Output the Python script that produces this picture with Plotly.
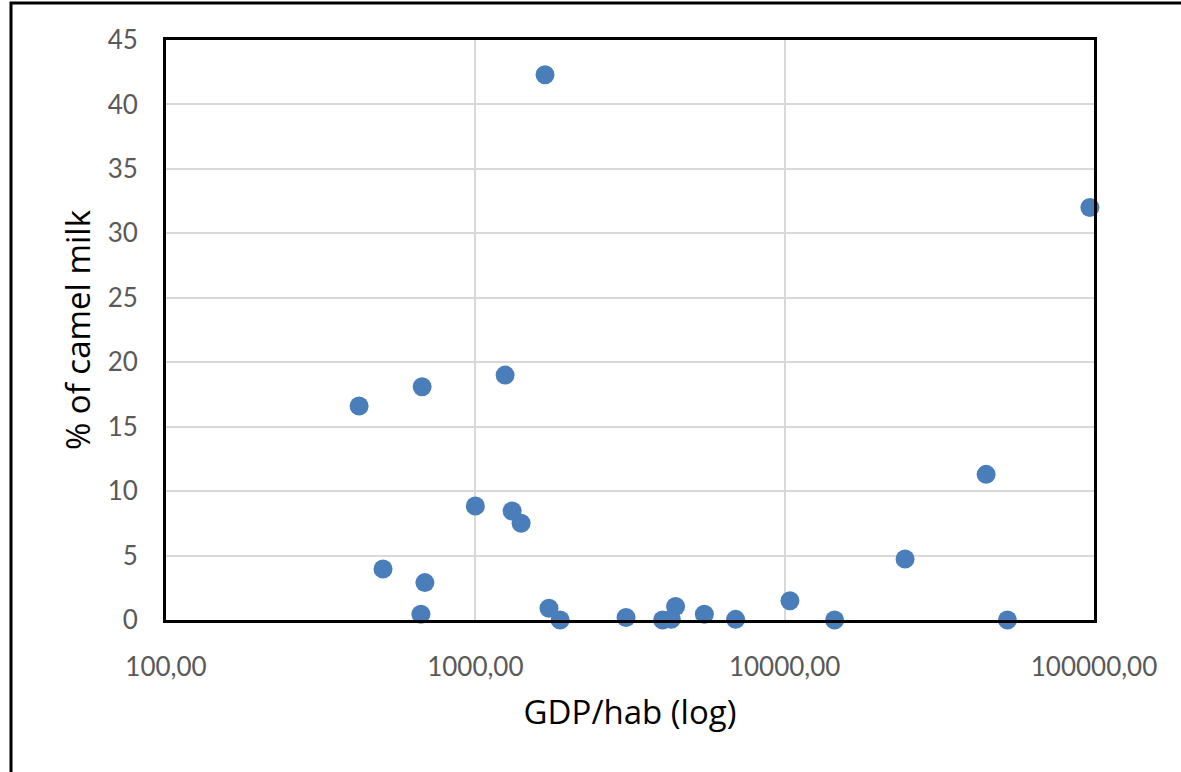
import plotly.graph_objects as go

gdp_per_hab = [1680, 97000, 1248, 673, 421, 44800, 1000, 1315, 1406, 24500,
               503, 687, 10400, 1730, 4440, 667, 5500, 3070, 1880, 4030,
               4300, 6940, 14500, 52500]
camel_milk_pct = [42.3, 32.0, 19.0, 18.1, 16.6, 11.3, 8.84, 8.46, 7.5, 4.73,
                  3.96, 2.9, 1.5, 0.91, 1.05, 0.45, 0.45, 0.2, 0.0, 0.0,
                  0.05, 0.05, 0.0, 0.0]

x_tickvals = [100, 1000, 10000, 100000]
x_ticktext = ["100,00", "1000,00", "10000,00", "100000,00"]
y_tickvals = [0, 5, 10, 15, 20, 25, 30, 35, 40, 45]

W, H = 1181, 772
L, R, T, B = 166, 87, 40, 152
pw, ph = W - L - R, H - T - B

fig = go.Figure()
fig.add_trace(go.Scatter(
    x=gdp_per_hab, y=camel_milk_pct, mode="markers",
    marker=dict(size=19, color="#4a7ebb", line=dict(width=0)),
    cliponaxis=False, showlegend=False,
))

tick_font = "Lato, 'Open Sans', sans-serif"
title_font = "'Open Sans', 'Noto Sans', sans-serif"
fig.update_layout(
    width=W, height=H,
    margin=dict(l=L, r=R, t=T, b=B),
    paper_bgcolor="white", plot_bgcolor="white",
    font=dict(family=tick_font),
    xaxis=dict(
        type="log", range=[2, 5],
        tickvals=x_tickvals, ticktext=x_ticktext,
        showgrid=True, gridcolor="#d9d9d9", gridwidth=2,
        showline=True, linecolor="black", linewidth=3, mirror=True,
        ticks="outside", ticklen=22, tickcolor="rgba(0,0,0,0)",
        tickfont=dict(size=26, color="#595959", family=tick_font),
        title=dict(text="GDP/hab (log)", font=dict(size=33, color="black", family=title_font), standoff=20),
        zeroline=False,
    ),
    yaxis=dict(
        range=[0, 45], tickvals=y_tickvals,
        showgrid=True, gridcolor="#d9d9d9", gridwidth=2,
        showline=True, linecolor="black", linewidth=3, mirror=True,
        ticks="outside", ticklen=20, tickcolor="rgba(0,0,0,0)",
        tickfont=dict(size=26, color="#595959", family=tick_font),
        title=dict(text="% of camel milk", font=dict(size=33, color="black", family=title_font), standoff=8),
        zeroline=False,
    ),
)

# outer frame (top and left edges visible in the reference)
fig.add_shape(type="rect", xref="paper", yref="paper",
              x0=(11 - L) / pw, x1=(W + 60 - L) / pw,
              y0=-(B + 60) / ph, y1=1 + (T - 3) / ph,
              line=dict(color="black", width=3), layer="below")

fig.write_html("out.html", config={"displayModeBar": False},
               post_script="document.body.style.margin='0';")
